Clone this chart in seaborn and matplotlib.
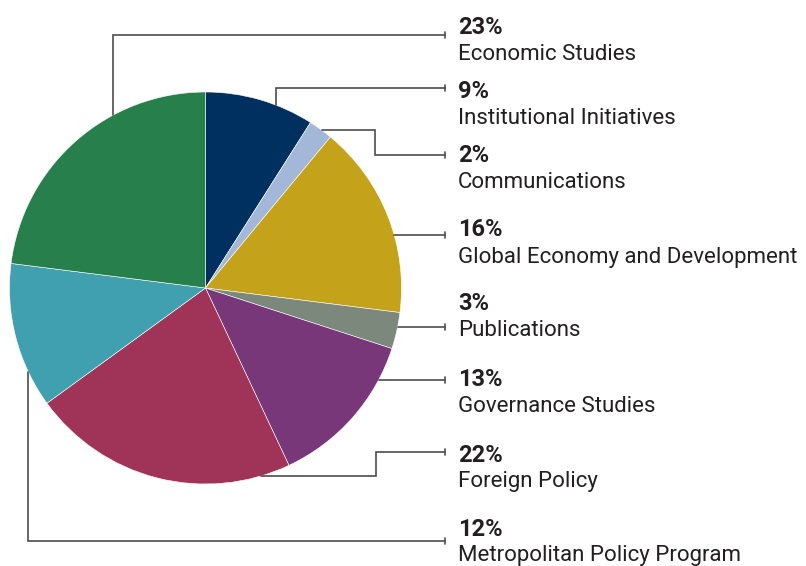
import numpy as np
import matplotlib
matplotlib.use("Agg")
import matplotlib.pyplot as plt
import seaborn as sns

# data (clockwise from the top)
categories = ["Institutional Initiatives", "Communications", "Global Economy and Development",
              "Publications", "Governance Studies", "Foreign Policy",
              "Metropolitan Policy Program", "Economic Studies"]
shares = [9, 2, 16, 3, 13, 22, 12, 23]
colors = ["#003060", "#a3b8d9", "#c4a21a", "#7d887d", "#783779", "#a03358", "#40a0b0", "#277f4c"]

# label layout in pixel coords (y from the top): anchor angle on the rim, route, text y
layout = {
    "Economic Studies":               dict(ang=118,   route=("v", 35),         ty=28),
    "Institutional Initiatives":      dict(ang=69,    route=("v", 88),         ty=92),
    "Communications":                 dict(ang=53.7,  route=("hv", 375, 155),  ty=156),
    "Global Economy and Development": dict(ang=15.7,  route=("h",),            ty=230),
    "Publications":                   dict(ang=-11.5, route=("h",),            ty=304),
    "Governance Studies":             dict(ang=-28,   route=("h",),            ty=380),
    "Foreign Policy":                 dict(ang=-73.7, route=("hv", 376, 452),  ty=455),
    "Metropolitan Policy Program":    dict(ang=-154.6, route=("v", 541),       ty=529),
}

W, H = 806, 566
cx, cy, r = 205.5, 288, 196
line_end = 445
text_x = 458
ink = "#231f20"

sns.set_style("white")
plt.rcParams["font.family"] = ["Roboto", "DejaVu Sans"]

fig = plt.figure(figsize=(W / 100, H / 100), dpi=100)
ax = fig.add_axes([0, 0, 1, 1])

ax.pie(shares, colors=colors, startangle=90, counterclock=False,
       center=(cx, H - cy), radius=r,
       wedgeprops=dict(linewidth=0.4, edgecolor="white"))
ax.set_aspect("equal")
ax.set_xlim(0, W)
ax.set_ylim(0, H)
ax.axis("off")

for name, share in zip(categories, shares):
    lay = layout[name]
    a = np.deg2rad(lay["ang"])
    x0, y0 = cx + r * np.cos(a), cy - r * np.sin(a)
    route = lay["route"]
    if route[0] == "v":
        pts = [(x0, y0), (x0, route[1]), (line_end, route[1])]
    elif route[0] == "hv":
        pts = [(x0, y0), (route[1], y0), (route[1], route[2]), (line_end, route[2])]
    else:
        pts = [(x0, y0), (line_end, y0)]
    xs = [p[0] for p in pts]
    ys = [H - p[1] for p in pts]
    ax.plot(xs, ys, color="#4d4d4d", lw=1.2, solid_joinstyle="miter")
    ye = ys[-1]
    ax.plot([line_end, line_end], [ye - 3, ye + 3], color="#4d4d4d", lw=1.2)

    ty = lay["ty"]
    ax.text(text_x, H - ty, f"{share}%", fontsize=17, fontweight="bold",
            color=ink, va="center", ha="left")
    ax.text(text_x, H - (ty + 27), name, fontsize=16, color=ink,
            va="center", ha="left")

fig.savefig("out.png", dpi=100)
